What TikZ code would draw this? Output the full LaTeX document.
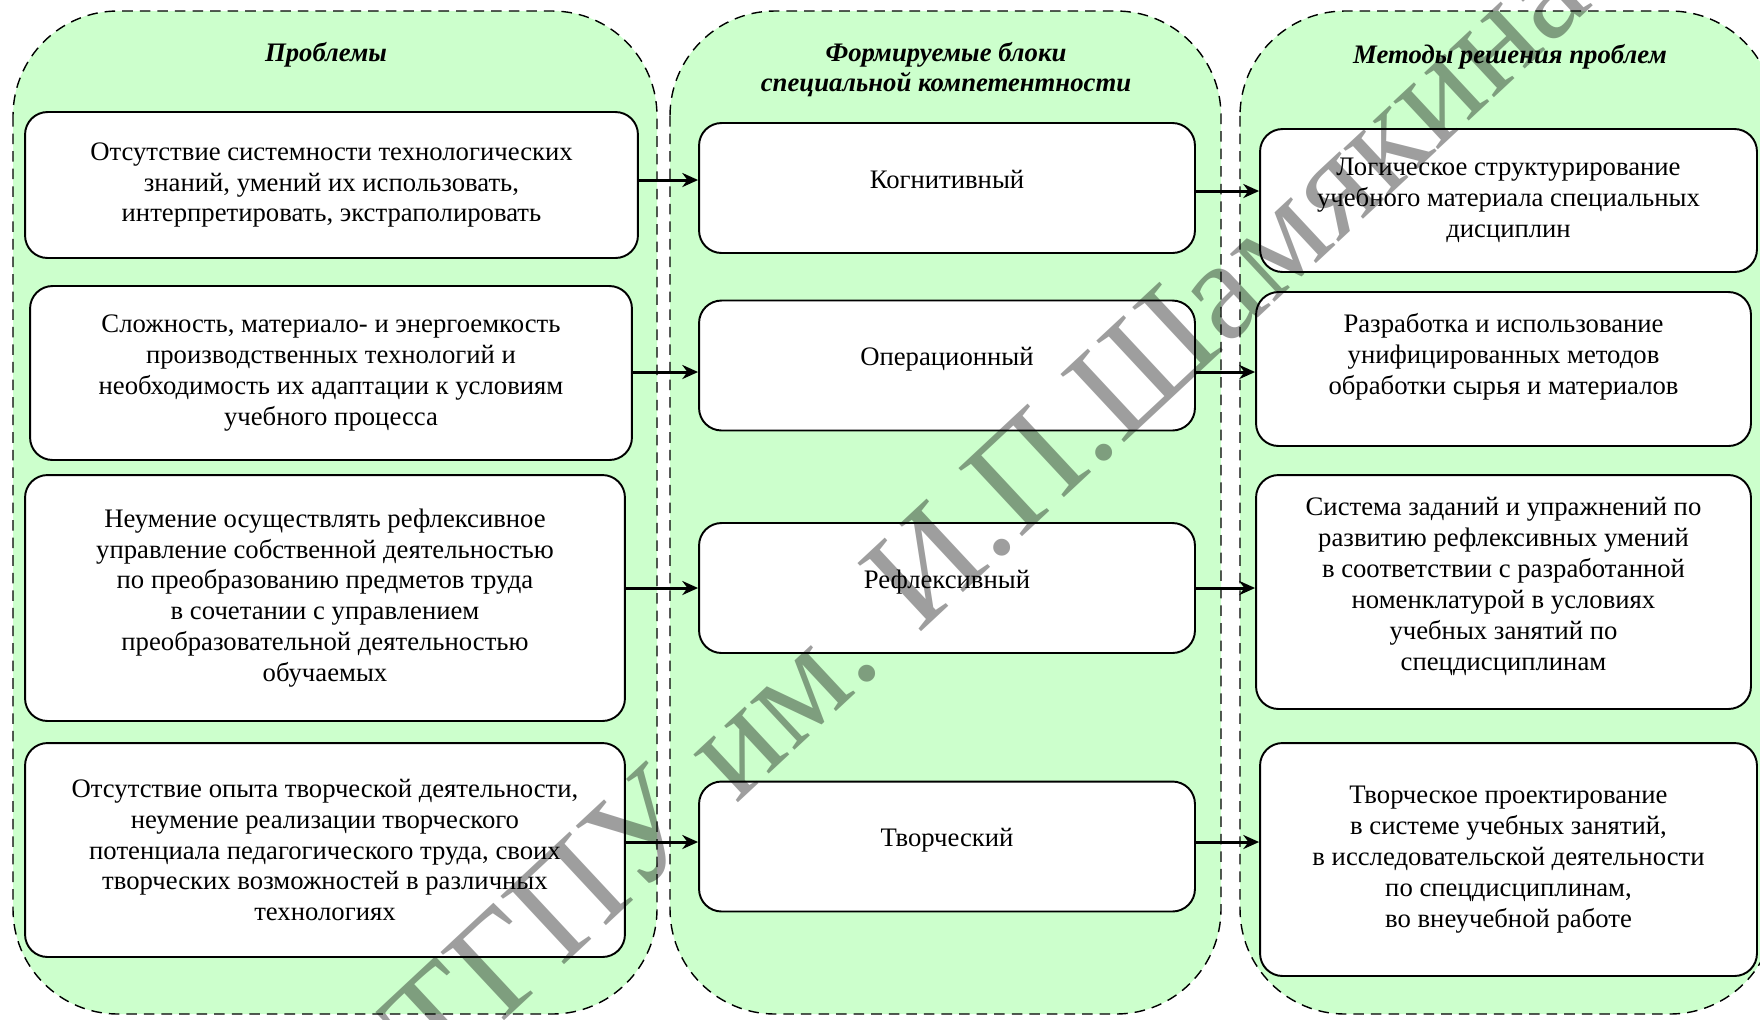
\documentclass[tikz,border=0pt]{standalone}
\usepackage{fontspec}
\setmainfont{Liberation Serif}
\usepackage{tikz}
\usetikzlibrary{arrows.meta}
\definecolor{panelgreen}{HTML}{CCFFCC}
\tikzset{
    >=Stealth,
    panel/.style={draw=black,dash pattern=on 6pt off 4pt,line width=0.8pt,fill=panelgreen,rounded corners=2.1cm},
    header/.style={align=center,font=\fontsize{15.2}{17}\selectfont\bfseries\itshape},
    box/.style={draw=black,line width=1.1pt,fill=white,rounded corners=0.45cm,align=center,inner sep=0pt,font=\fontsize{15.2}{17.6}\selectfont},
    block/.style={box,minimum width=9.92cm,minimum height=2.6cm,text depth=10pt},
    link/.style={->,line width=1.7pt,>={Stealth[length=9pt,width=8pt]}},
    stamp/.style={text=black,text opacity=0.38,font=\fontsize{81}{81}\selectfont,rotate=43}
}
\begin{document}
\begin{tikzpicture}[x=0.02cm,y=-0.02cm]
    \useasboundingbox (0,0) rectangle (1760,1019);
    \clip (0,0) rectangle (1760,1019);

    % columns
    \draw[panel] (13,11) rectangle (657,1014);
    \draw[panel] (670,11) rectangle (1221,1014);
    \draw[panel] (1240,11) rectangle (1775,1014);

    \node[header] (hprob) at (326,55) {Проблемы};
    \node[header] (hblock) at (946,70) {Формируемые блоки\\специальной компетентности};
    \node[header] (hmeth) at (1510,57) {Методы решения проблем};

    % problems
    \node[box,minimum width=12.26cm,minimum height=2.92cm] (l1) at (331.5,185) {Отсутствие системности технологических\\знаний, умений их использовать,\\интерпретировать, экстраполировать};
    \node[box,minimum width=12.04cm,minimum height=3.48cm] (l2) at (331,373) {Сложность, материало- и энергоемкость\\производственных технологий и\\необходимость их адаптации к условиям\\учебного процесса};
    \node[box,minimum width=12cm,minimum height=4.92cm] (l3) at (325,598) {Неумение осуществлять рефлексивное\\управление собственной деятельностью\\по преобразованию предметов труда\\в сочетании с управлением\\преобразовательной деятельностью\\обучаемых};
    \node[box,minimum width=12cm,minimum height=4.28cm] (l4) at (325,850) {Отсутствие опыта творческой деятельности,\\неумение реализации творческого\\потенциала педагогического труда, своих\\творческих возможностей в различных\\технологиях};

    % blocks
    \node[block] (m1) at (947,188) {Когнитивный};
    \node[block] (m2) at (947,365.5) {Операционный};
    \node[block] (m3) at (947,588) {Рефлексивный};
    \node[block] (m4) at (947,846.5) {Творческий};

    % methods
    \node[box,minimum width=9.94cm,minimum height=2.86cm] (r1) at (1508.5,200.5) {Логическое структурирование\\учебного материала специальных\\дисциплин};
    \node[box,minimum width=9.9cm,minimum height=3.08cm,text depth=17pt] (r2) at (1503.5,369) {Разработка и использование\\унифицированных методов\\обработки сырья и материалов};
    \node[box,minimum width=9.9cm,minimum height=4.68cm,text depth=9pt] (r3) at (1503.5,592) {Система заданий и упражнений по\\развитию рефлексивных умений\\в соответствии с разработанной\\номенклатурой в условиях\\учебных занятий по\\спецдисциплинам};
    \node[box,minimum width=9.94cm,minimum height=4.66cm] (r4) at (1508.5,859.5) {Творческое проектирование\\в системе учебных занятий,\\в исследовательской деятельности\\по спецдисциплинам,\\во внеучебной работе};

    \foreach \i/\a/\b in {1/180/191,2/372/372,3/588/588,4/842/842} {
        \draw[link] (l\i.east |- 0,\a) -- (m\i.west |- 0,\a);
        \draw[link] (m\i.east |- 0,\b) -- (r\i.west |- 0,\b);
    }

    \node[stamp] (stamp) at (985,510) {ТГПУ им. И.П.Шамякина};
\end{tikzpicture}
\end{document}
